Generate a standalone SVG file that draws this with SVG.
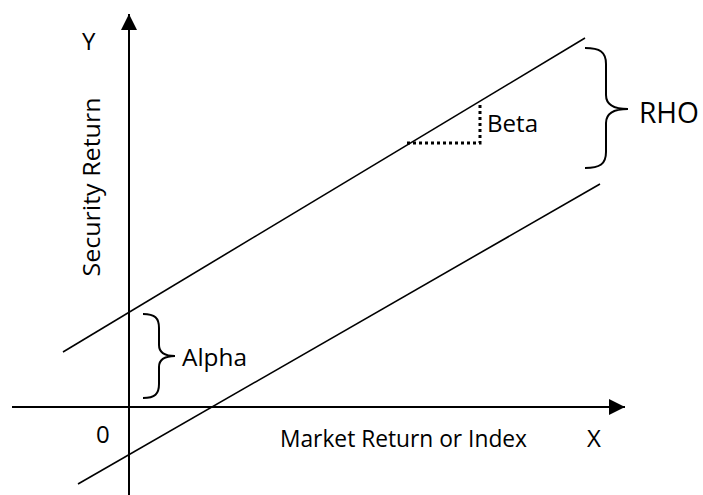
<svg xmlns="http://www.w3.org/2000/svg" width="703" height="495" viewBox="0 0 703 495">
<style>
.ln{stroke:#000;stroke-width:1.6;fill:none}
.ax{stroke:#000;stroke-width:2;fill:none}
.br{stroke:#000;stroke-width:2;fill:none}
.dot{stroke:#000;stroke-width:3;stroke-dasharray:3 3;fill:none}
text{font-family:"Open Sans","Liberation Sans",sans-serif;fill:#000;font-size:24px}
</style>
<defs>
<marker id="ah" viewBox="0 0 16 16" refX="16" refY="8" markerWidth="16" markerHeight="16" markerUnits="userSpaceOnUse" orient="auto">
<path d="M0,0 L16,8 L0,16 Z" fill="#000"/>
</marker>
</defs>
<rect width="703" height="495" fill="#fff"/>
<g id="connectors">
<line id="y-axis" class="ax" x1="129" y1="495" x2="129" y2="14" marker-end="url(#ah)"/>
<line id="x-axis" class="ax" x1="12" y1="407" x2="625" y2="407" marker-end="url(#ah)"/>
<line id="upper-line" class="ln" x1="63" y1="352" x2="585" y2="38"/>
<line id="lower-line" class="ln" x1="78" y1="484" x2="600" y2="184"/>
<path id="beta-dots" class="dot" d="M407,143 L480,143 L480,105"/>
</g>
<g id="rho">
<path class="br" d="M585,48 C600,48 606,52 606,64 L606,95 C606,104 612,109 628,109 C612,109 606,114 606,123 L606,152 C606,164 600,168 585,168"/>
<text x="639" y="123" style="font-size:30px" textLength="60" lengthAdjust="spacingAndGlyphs">RHO</text>
</g>
<g id="alpha">
<path class="br" d="M143,314 C155,314 159,318 159,328 L159,345 C159,352 164,356 175,356 C164,356 159,360 159,367 L159,384 C159,394 155,398 143,398"/>
<text x="182" y="366" textLength="65" lengthAdjust="spacingAndGlyphs">Alpha</text>
</g>
<g id="beta">
<text x="487" y="132" textLength="51" lengthAdjust="spacingAndGlyphs">Beta</text>
</g>
<g id="labels">
<text x="82" y="50">Y</text>
<text transform="translate(100,187) rotate(-90)" text-anchor="middle" textLength="179" lengthAdjust="spacingAndGlyphs">Security Return</text>
<text x="96" y="443">0</text>
<text x="280" y="447" textLength="247" lengthAdjust="spacingAndGlyphs">Market Return or Index</text>
<text x="587" y="447">X</text>
</g>
</svg>
